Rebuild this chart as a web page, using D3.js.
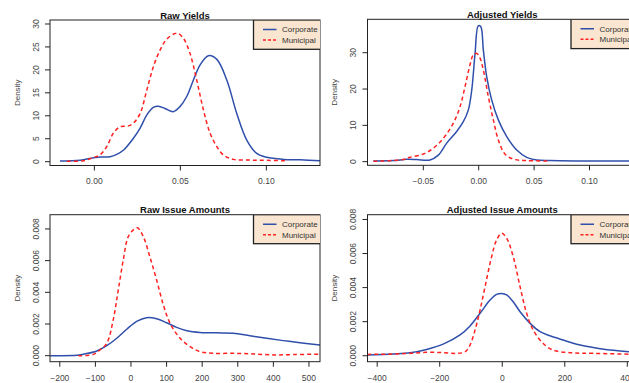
<html>
<head><meta charset="utf-8"></head>
<script src='https://d3js.org/d3.v7.min.js'></script>
<body style='margin:0' onload='init()'>
<svg width=629 height=383></svg>
<script>
// series (x grid + density)
const seriesNames = ['Corporate', 'Municipal'];

const rawYieldCorpX = [-0.020,-0.0083,-0.0006,0.0033,0.0091,0.013,0.017,0.0227,0.0266,0.0305,0.0343,0.0372,0.0411,0.0459,0.0498,0.0537,0.0576,0.0615,0.0663,0.0712,0.077,0.0828,0.0886,0.0944,0.1002,0.1099,0.1196,0.1312];
const rawYieldCorpY = [0.15,0.3,0.87,1.0,1.1,1.6,2.55,5.1,7.3,10.2,11.85,12.1,11.6,10.9,12.0,14.2,17.8,21.1,23.1,22.3,17.8,10.5,4.7,1.8,0.95,0.5,0.4,0.2];
const rawYieldMuniX = [-0.016,-0.0064,-0.0006,0.0033,0.0072,0.011,0.0149,0.0198,0.0227,0.0266,0.0305,0.0343,0.0382,0.0421,0.0479,0.0517,0.0556,0.0595,0.0634,0.0673,0.0712,0.075,0.0808,0.0905,0.1002,0.1119];
const rawYieldMuniY = [0.1,0.2,0.9,1.5,3.3,6.2,7.6,7.8,8.4,10.5,15.6,20.7,24.3,26.7,28.0,26.9,23.6,17.8,11.3,6.2,3.3,1.5,0.5,0.35,0.3,0.2];

const adjYieldCorpX = [-0.0951,-0.077,-0.065,-0.056,-0.044,-0.0365,-0.0289,-0.0199,-0.0139,-0.0094,-0.0063,-0.0033,-0.0004,0.0018,0.0042,0.0072,0.0117,0.0177,0.0253,0.0343,0.0433,0.0523,0.0643,0.0884,0.1357];
const adjYieldCorpY = [0.2,0.3,0.65,0.6,0.45,1.8,5.1,8.3,11.0,14.2,19.7,29.8,37.4,37.2,30.7,23.4,17.0,11.5,6.9,3.2,1.2,0.45,0.3,0.2,0.15];
const adjYieldMuniX = [-0.0951,-0.068,-0.062,-0.05,-0.041,-0.032,-0.0229,-0.0169,-0.0124,-0.0079,-0.0049,-0.0018,0.0012,0.0042,0.0087,0.0132,0.0177,0.0237,0.0313,0.0433,0.0628];
const adjYieldMuniY = [0.1,0.6,1.2,2.1,3.7,6.4,10.6,15.1,20.6,26.6,29.4,29.8,28.5,25.2,17.9,11.5,6.0,2.1,0.7,0.3,0.2];

const rawAmtCorpX = [-227,-152,-134,-96,-68,-40,-12,16,44,72,100,128,157,194,241,287,334,381,428,475,531];
const rawAmtCorpY = [0,0.00002,0.00009,0.0003,0.00063,0.0011,0.00167,0.00217,0.0024,0.00233,0.00208,0.00179,0.00158,0.00147,0.00144,0.00142,0.00126,0.0011,0.00095,0.00082,0.00067];
const rawAmtMuniX = [-148,-106,-87,-68,-50,-36,-22,-8,6,18,35,53,72,91,110,138,166,194,231,287,344,400,456,531];
const rawAmtMuniY = [0,0.00008,0.00036,0.00078,0.00225,0.0041,0.006,0.0075,0.00793,0.00807,0.0075,0.00625,0.00478,0.0032,0.00204,0.0011,0.00057,0.00025,0.00015,0.00015,0.00011,0.00005,0.00007,0.0001];

const adjAmtCorpX = [-432,-349,-295,-242,-189,-135,-103,-71,-39,-18,-2,14,35,57,89,121,153,195,238,291,345,432];
const adjAmtCorpY = [0.00004,0.0001,0.00017,0.00037,0.00068,0.00122,0.00175,0.00249,0.00327,0.0036,0.00366,0.00357,0.00317,0.00258,0.0019,0.00141,0.00117,0.00092,0.00068,0.00049,0.00033,0.00021];
const adjAmtMuniX = [-432,-349,-295,-242,-189,-146,-119,-103,-87,-71,-55,-34,-18,-2,14,35,57,78,99,131,163,217,291,432];
const adjAmtMuniY = [0.00008,0.0001,0.00014,0.0002,0.00018,0.00014,0.00023,0.00063,0.00151,0.00268,0.00405,0.00582,0.0068,0.00719,0.0069,0.00582,0.00405,0.00249,0.00151,0.00072,0.00033,0.00018,0.00014,0.00008];

const titles = ['Raw Yields', 'Adjusted Yields', 'Raw Issue Amounts', 'Adjusted Issue Amounts'];
const xTicks = [[0, 0.05, 0.10], [-0.05, 0, 0.05, 0.10], [-200,-100,0,100,200,300,400,500], [-400,-200,0,200,400]];
const yTicks = [[0,5,10,15,20,25,30], [0,10,20,30], [0,0.002,0.004,0.006,0.008], [0,0.002,0.004,0.006,0.008]];

function zip(xs, ys) { return xs.map((x, i) => ({x: x, y: ys[i]})); }

function init() {
    const svg = d3.select('svg');
    svg.append('rect').attr('width', 629).attr('height', 383).attr('fill', 'white');

    const panels = [
        {box: [50, 20, 320, 165.5], xd: [-0.0258, 0.1312], yd: [-0.83, 30.87], xf: d3.format('.2f'), yf: d3.format('d'),
         corp: zip(rawYieldCorpX, rawYieldCorpY), muni: zip(rawYieldMuniX, rawYieldMuniY)},
        {box: [367.5, 19.3, 637, 165.3], xd: [-0.1004, 0.1429], yd: [-1.0, 39.2], xf: d3.format('.2f'), yf: d3.format('d'),
         corp: zip(adjYieldCorpX, adjYieldCorpY), muni: zip(adjYieldMuniX, adjYieldMuniY)},
        {box: [50, 214.7, 320, 361.7], xd: [-227.5, 531], yd: [-0.00038, 0.0089], xf: d3.format('d'), yf: d3.format('.3f'),
         corp: zip(rawAmtCorpX, rawAmtCorpY), muni: zip(rawAmtMuniX, rawAmtMuniY)},
        {box: [367.5, 214.7, 637, 361.7], xd: [-431, 431], yd: [-0.00035, 0.00828], xf: d3.format('d'), yf: d3.format('.3f'),
         corp: zip(adjAmtCorpX, adjAmtCorpY), muni: zip(adjAmtMuniX, adjAmtMuniY)}
    ];
    const font = "'Liberation Sans', Arial, sans-serif";
    const blue = '#2f4fab', red = '#ff2222';

    panels.forEach(function(p, i) {
        const [l, t, r, b] = p.box;
        const x = d3.scaleLinear().domain(p.xd).range([l, r]);
        const y = d3.scaleLinear().domain(p.yd).range([b, t]);
        const g = svg.append('g');

        g.append('clipPath').attr('id', 'clip' + i)
            .append('rect').attr('x', l).attr('y', t).attr('width', r - l).attr('height', b - t);

        const line = d3.line().x(d => x(d.x)).y(d => y(d.y)).curve(d3.curveCatmullRom);
        const plot = g.append('g').attr('clip-path', 'url(#clip' + i + ')');
        plot.append('path').datum(p.corp).attr('fill', 'none').attr('stroke', blue)
            .attr('stroke-width', 1.5).attr('d', line);
        plot.append('path').datum(p.muni).attr('fill', 'none').attr('stroke', red)
            .attr('stroke-width', 1.5).attr('stroke-dasharray', '4,3').attr('d', line);

        // box
        g.append('rect').attr('x', l).attr('y', t).attr('width', r - l).attr('height', b - t)
            .attr('fill', 'none').attr('stroke', '#222').attr('stroke-width', 1);

        // x axis
        const xa = g.append('g');
        xTicks[i].forEach(function(v) {
            xa.append('line').attr('x1', x(v)).attr('x2', x(v)).attr('y1', b).attr('y2', b + 5)
                .attr('stroke', '#222');
            xa.append('text').attr('x', x(v)).attr('y', b + 16).attr('dy', '0.35em')
                .attr('text-anchor', 'middle').attr('font-family', font).attr('font-size', 8.5)
                .attr('fill', '#444').text(p.xf(v).replace('-', '\u2212'));
        });
        // y axis
        const ya = g.append('g');
        yTicks[i].forEach(function(v) {
            ya.append('line').attr('x1', l - 5).attr('x2', l).attr('y1', y(v)).attr('y2', y(v))
                .attr('stroke', '#222');
            ya.append('text').attr('transform', 'translate(' + (l - 14) + ',' + y(v) + ') rotate(-90)')
                .attr('dy', '0.35em').attr('text-anchor', 'middle').attr('font-family', font)
                .attr('font-size', 8.5).attr('fill', '#444').text(p.yf(v));
        });

        g.append('text').attr('transform', 'translate(' + (l - 33) + ',' + ((t + b) / 2) + ') rotate(-90)')
            .attr('dy', '0.35em').attr('text-anchor', 'middle').attr('font-family', font)
            .attr('font-size', 8).attr('fill', '#444').text('Density');

        g.append('text').attr('x', (l + r) / 2).attr('y', t - 1.5).attr('text-anchor', 'middle')
            .attr('font-family', font).attr('font-size', 9.5).attr('font-weight', 'bold')
            .attr('fill', '#111').text(titles[i]);

        // legend
        const lg = g.append('g').attr('clip-path', 'url(#clip' + i + ')');
        const lx = l + 203.5, lh = (i < 2) ? 29.3 : 29;
        lg.append('rect').attr('x', lx).attr('y', t).attr('width', 80).attr('height', lh)
            .attr('fill', '#fae5d0').attr('stroke', '#222').attr('stroke-width', 1.3);
        seriesNames.forEach(function(name, k) {
            const ly = t + 9.5 + k * 10.5;
            lg.append('line').attr('x1', lx + 9.5).attr('x2', lx + 23).attr('y1', ly).attr('y2', ly)
                .attr('stroke', k == 0 ? blue : red).attr('stroke-width', 1.5)
                .attr('stroke-dasharray', k == 0 ? null : '3,2');
            lg.append('text').attr('x', lx + 28.5).attr('y', ly).attr('dy', '0.35em')
                .attr('font-family', font).attr('font-size', 8).attr('fill', '#333').text(name);
        });
    });
}
</script>
</body>
</html>
